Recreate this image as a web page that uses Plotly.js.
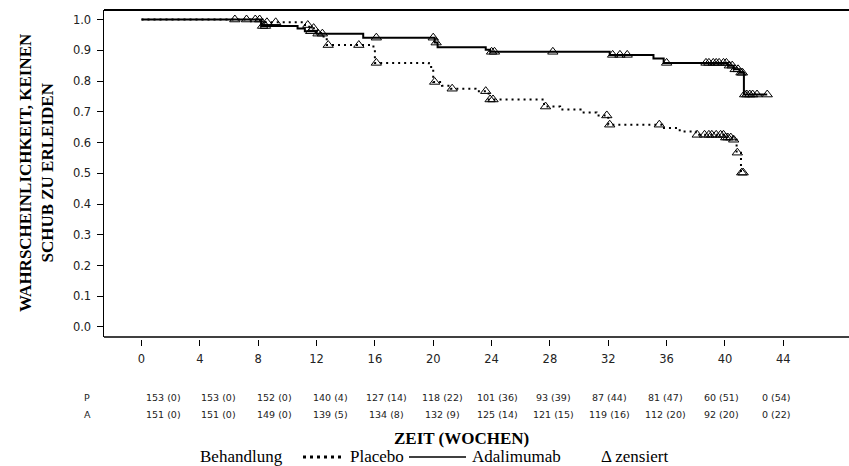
<!DOCTYPE html>
<html>
<head>
<meta charset="utf-8">
<script src="https://cdn.plot.ly/plotly-3.0.1.min.js"></script>
<style>html,body{margin:0;padding:0;background:#fff;}#chart{width:849px;height:466px;}</style>
</head>
<body>
<div id="chart"></div>
<script>
// ---- Data ----
// Kaplan-Meier step points: time (weeks) and survival after the step
const adaTimes = [0, 8.2, 10.7, 11.2, 12.0, 15.2, 20.1, 20.3, 23.6, 23.9, 32.1, 35.1, 35.8, 40.2, 40.6, 41.0, 41.3];
const adaSurv  = [1, 0.979, 0.971, 0.962, 0.954, 0.941, 0.925, 0.910, 0.902, 0.895, 0.885, 0.873, 0.859, 0.850, 0.838, 0.827, 0.756];
const adaCensored = [6.4, 7.8, 8.3, 8.5, 11.6, 12.1, 12.4, 16.1, 20.0, 20.2, 24.0, 24.2, 28.2, 32.3, 32.8, 33.3, 36.0,
  38.7, 38.9, 39.2, 39.4, 39.6, 39.9, 40.1, 40.3, 40.5, 40.7, 40.9, 41.1, 41.2, 41.35, 41.5, 41.7, 41.9, 42.2, 42.9];

const plaTimes = [0, 8.4, 11.1, 11.5, 11.9, 12.3, 12.7, 15.9, 16.0, 19.7, 20.0, 20.6, 21.2, 22.9, 23.8, 27.6, 28.7, 30.1, 31.2, 32.0, 35.7, 36.9, 38.0, 40.0, 40.5, 40.8, 41.1];
const plaSurv  = [1, 0.991, 0.982, 0.972, 0.962, 0.945, 0.917, 0.905, 0.859, 0.846, 0.797, 0.785, 0.775, 0.767, 0.740, 0.717, 0.707, 0.698, 0.688, 0.658, 0.647, 0.636, 0.625, 0.616, 0.609, 0.567, 0.502];
const plaCensored = [7.2, 8.1, 8.6, 9.2, 11.4, 11.8, 12.8, 14.9, 16.1, 20.1, 21.3, 23.6, 23.9, 24.1, 27.7, 31.9, 32.1, 35.5,
  38.1, 38.6, 38.9, 39.1, 39.4, 39.7, 39.9, 40.05, 40.2, 40.4, 40.6, 40.85, 41.15, 41.25];

const xTickVals = [0, 4, 8, 12, 16, 20, 24, 28, 32, 36, 40, 44];
const riskPlacebo = ['153 (0)', '153 (0)', '152 (0)', '140 (4)', '127 (14)', '118 (22)', '101 (36)', '93 (39)', '87 (44)', '81 (47)', '60 (51)', '0 (54)'];
const riskAdalimumab = ['151 (0)', '151 (0)', '149 (0)', '139 (5)', '134 (8)', '132 (9)', '125 (14)', '121 (15)', '119 (16)', '112 (20)', '92 (20)', '0 (22)'];
const riskLabels = ['P', 'A'];

const yTitle = 'WAHRSCHEINLICHKEIT, KEINEN<br>SCHUB ZU ERLEIDEN';
const xTitle = 'ZEIT (WOCHEN)';
const legendTitle = 'Behandlung';
const nameP = 'Placebo';
const nameA = 'Adalimumab';
const censorLabel = 'Δ zensiert';

// ---- Layout geometry ----
const W = 849, H = 466;
const M = {l: 104, r: 0, t: 10, b: 116};
const PW = W - M.l - M.r, PH = H - M.t - M.b;
const px = x => (x - M.l) / PW;
const py = y => (M.t + PH - y) / PH;

function survAt(times, surv, t) {
  let v = surv[0];
  for (let i = 0; i < times.length; i++) { if (times[i] <= t) v = surv[i]; }
  return v;
}
function stepLine(times, surv, endT) {
  return {x: times.concat([endT]), y: surv.concat([surv[surv.length - 1]])};
}

const adaLine = stepLine(adaTimes, adaSurv, Math.max(...adaCensored));
const plaLine = stepLine(plaTimes, plaSurv, Math.max(...plaCensored));

const markerStyle = {symbol: 'triangle-up-open', size: 9, color: '#000', line: {width: 1, color: '#000'}};

const traces = [
  {x: plaLine.x, y: plaLine.y, mode: 'lines', line: {shape: 'hv', color: '#000', width: 2, dash: '2px,4px'}, showlegend: false, hoverinfo: 'skip'},
  {x: adaLine.x, y: adaLine.y, mode: 'lines', line: {shape: 'hv', color: '#000', width: 2}, showlegend: false, hoverinfo: 'skip'},
  {x: plaCensored, y: plaCensored.map(t => survAt(plaTimes, plaSurv, t)), mode: 'markers', marker: markerStyle, showlegend: false, hoverinfo: 'skip'},
  {x: adaCensored, y: adaCensored.map(t => survAt(adaTimes, adaSurv, t)), mode: 'markers', marker: markerStyle, showlegend: false, hoverinfo: 'skip'}
];

const serif = 'Liberation Serif, Times New Roman, serif';
const sans = 'DejaVu Sans, Verdana, sans-serif';

function note(text, x, y, opts) {
  return Object.assign({text: text, xref: 'paper', yref: 'paper', x: px(x), y: py(y), xanchor: 'center', yanchor: 'middle',
    showarrow: false}, opts || {});
}

const annotations = [];
// y-axis title
annotations.push(note('<b>' + yTitle + '</b>', 36, 173, {textangle: -90, font: {family: serif, size: 17, color: '#000'}}));
// x title
annotations.push(note('<b>' + xTitle + '</b>', 461, 438, {font: {family: serif, size: 17, color: '#000'}}));
// at-risk table
const rows = [riskPlacebo, riskAdalimumab];
const rowY = [397, 414];
const tableFont = {family: sans, size: 9.5, color: '#222'};
rows.forEach((row, r) => {
  annotations.push(note(riskLabels[r], 87, rowY[r], {font: tableFont}));
  row.forEach((txt, i) => {
    const wk = xTickVals[i];
    annotations.push({text: txt, xref: 'x', yref: 'paper', x: wk, xshift: 21.5 - 0.635 * wk, y: py(rowY[r]),
      xanchor: 'center', yanchor: 'middle', showarrow: false, font: tableFont});
  });
});
// legend
const legY = 456;
const legFont = {family: serif, size: 17, color: '#000'};
annotations.push(note(legendTitle, 198, legY, {xanchor: 'left', font: legFont}));
annotations.push(note(nameP, 348, legY, {xanchor: 'left', font: legFont}));
annotations.push(note(nameA, 470, legY, {xanchor: 'left', font: legFont}));
annotations.push(note(censorLabel, 599, legY, {xanchor: 'left', font: legFont}));

const shapes = [
  // frame top and bottom
  {type: 'line', xref: 'paper', yref: 'paper', x0: 0, x1: 1, y0: 1, y1: 1, line: {color: '#000', width: 2}},
  {type: 'line', xref: 'paper', yref: 'paper', x0: 0, x1: 1, y0: py(337), y1: py(337), line: {color: '#000', width: 1.5}},
  // legend samples
  {type: 'line', xref: 'paper', yref: 'paper', x0: px(303), x1: px(345), y0: py(legY + 1), y1: py(legY + 1), line: {color: '#000', width: 3, dash: '3px,4px'}},
  {type: 'line', xref: 'paper', yref: 'paper', x0: px(409), x1: px(466), y0: py(legY + 1), y1: py(legY + 1), line: {color: '#000', width: 1.5}}
];

const layout = {
  width: W, height: H,
  margin: M,
  paper_bgcolor: '#fff', plot_bgcolor: '#fff',
  showlegend: false,
  xaxis: {range: [(M.l - 141.5) / 14.586, (W - M.r - 141.5) / 14.586], anchor: 'free', position: py(338.5),
    showline: false, zeroline: false, showgrid: false, ticks: 'outside', ticklen: 6, tickwidth: 1, tickcolor: '#000',
    tickmode: 'array', tickvals: xTickVals, ticktext: xTickVals.map(String), ticklabelstandoff: 4,
    tickfont: {family: sans, size: 11.5, color: '#222'}},
  yaxis: {domain: [py(337), 1], range: [-0.0326, 1.031], showline: true, linecolor: '#000', linewidth: 1.5,
    zeroline: false, showgrid: false, ticks: 'outside', ticklen: 6, tickwidth: 1, tickcolor: '#000', ticklabelstandoff: 3,
    tick0: 0, dtick: 0.1, tickformat: '.1f', tickfont: {family: sans, size: 11.5, color: '#222'}},
  annotations: annotations,
  shapes: shapes
};

Plotly.newPlot('chart', traces, layout, {staticPlot: true, displayModeBar: false});
</script>
</body>
</html>
